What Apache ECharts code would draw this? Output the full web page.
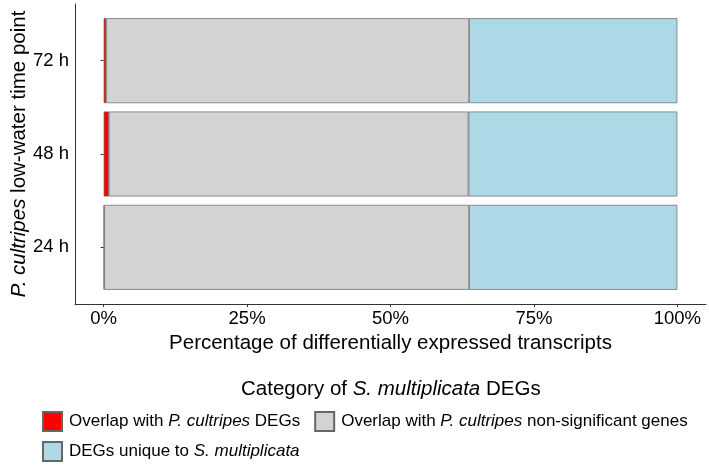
<!DOCTYPE html>
<html><head><meta charset="utf-8">
<script src="https://cdn.jsdelivr.net/npm/echarts@6/dist/echarts.min.js"></script>
<style>html,body{margin:0;padding:0;background:#fff}#c{width:709px;height:466px}</style>
</head><body><div id="c"></div>
<script>
var categories = ['24 h', '48 h', '72 h'];
var overlapDEGs = [0.1, 0.9, 0.45];
var overlapNonSig = [63.6, 62.7, 63.25];
var uniqueDEGs = [36.3, 36.4, 36.3];
var xTicks = [0, 25, 50, 75, 100];
var seriesNames = ['Overlap with P. cultripes DEGs', 'Overlap with P. cultripes non-significant genes', 'DEGs unique to S. multiplicata'];
var legendLabels = {
  'Overlap with P. cultripes DEGs': 'Overlap with {i|P. cultripes} DEGs',
  'Overlap with P. cultripes non-significant genes': 'Overlap with {i|P. cultripes} non-significant genes',
  'DEGs unique to S. multiplicata': 'DEGs unique to {i|S. multiplicata}'
};
var FF = "'Liberation Sans', Arial, sans-serif";
var FS_LEG = 17, FS_TICK = 18.5, FS_TITLE = 20.5;
function richFor(fs) { return { i: { fontStyle: 'italic', fontSize: fs, fontFamily: FF, color: '#000' } }; }
var chart = echarts.init(document.getElementById('c'), null, { renderer: 'canvas' });
var border = { borderColor: '#666', borderWidth: 0.7 };
function mk(name, data, color) {
  return {
    type: 'bar', name: name, stack: 's', data: data, xAxisIndex: 0, yAxisIndex: 0,
    barCategoryGap: '9%',
    itemStyle: Object.assign({ color: color }, border),
    emphasis: { disabled: true }
  };
}
chart.setOption({
  animation: false,
  textStyle: { fontFamily: FF },
  title: {
    text: 'Category of {i|S. multiplicata} DEGs',
    left: 236, top: 374,
    textStyle: { fontSize: FS_TITLE, fontWeight: 'normal', color: '#000', fontFamily: FF, rich: richFor(FS_TITLE) }
  },
  grid: [
    { left: 75, right: 3, top: 14, bottom: 172, containLabel: false },
    { left: 75, right: 3, top: 4, bottom: 162, containLabel: false }
  ],
  xAxis: [
    {
      gridIndex: 0, type: 'value', min: -5, max: 105, offset: 10,
      axisLine: { show: true, onZero: false, lineStyle: { color: '#333', width: 1 } },
      axisTick: { show: true, length: 3, customValues: xTicks, lineStyle: { color: '#333' } },
      axisLabel: { customValues: xTicks, formatter: '{value}%', fontSize: FS_TICK, color: '#000', fontFamily: FF, margin: 5 },
      splitLine: { show: false },
      name: 'Percentage of differentially expressed transcripts',
      nameLocation: 'middle', nameGap: 29,
      nameTextStyle: { fontSize: FS_TITLE, color: '#000', fontFamily: FF }
    },
    { gridIndex: 1, type: 'value', min: -5, max: 105, show: false }
  ],
  yAxis: [
    {
      gridIndex: 0, type: 'category', data: categories,
      axisLine: { show: false },
      axisTick: { show: true, alignWithLabel: true, length: 3, lineStyle: { color: '#333' } },
      axisLabel: { fontSize: FS_TICK, color: '#000', fontFamily: FF, margin: 6 }
    },
    {
      gridIndex: 1, type: 'value', min: 0, max: 1,
      axisLine: { show: true, onZero: false, lineStyle: { color: '#333', width: 1 } },
      axisTick: { show: false }, axisLabel: { show: false }, splitLine: { show: false },
      name: '{i|P. cultripes} low-water time point',
      nameLocation: 'middle', nameGap: 45, nameRotate: 90,
      nameTextStyle: { fontSize: FS_TITLE, color: '#000', fontFamily: FF, rich: richFor(FS_TITLE) }
    }
  ],
  legend: [
    {
      data: [seriesNames[0], seriesNames[1]], left: 42, top: 411, orient: 'horizontal', padding: 0,
      itemWidth: 19, itemHeight: 19, itemGap: 14, icon: 'rect',
      formatter: function (n) { return legendLabels[n]; },
      textStyle: { fontSize: FS_LEG, color: '#000', fontFamily: FF, rich: richFor(FS_LEG), padding: [0, 0, 0, 2] },
      selectedMode: false
    },
    {
      data: [seriesNames[2]], left: 42, top: 441, orient: 'horizontal', padding: 0,
      itemWidth: 19, itemHeight: 19, icon: 'rect',
      formatter: function (n) { return legendLabels[n]; },
      textStyle: { fontSize: FS_LEG, color: '#000', fontFamily: FF, rich: richFor(FS_LEG), padding: [0, 0, 0, 2] },
      selectedMode: false
    }
  ],
  series: [
    mk(seriesNames[0], overlapDEGs, '#FF0000'),
    mk(seriesNames[1], overlapNonSig, '#D3D3D3'),
    mk(seriesNames[2], uniqueDEGs, '#ADD8E6')
  ]
});
</script></body></html>
